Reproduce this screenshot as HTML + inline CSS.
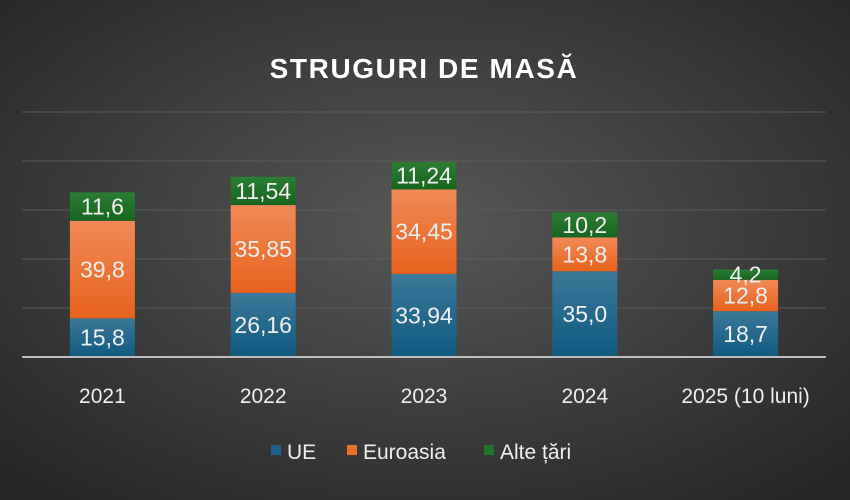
<!DOCTYPE html>
<html><head><meta charset="utf-8"><style>
html,body{margin:0;width:850px;height:500px;overflow:hidden;background:#333;}
svg{display:block;}
svg text{font-family:"Liberation Sans",sans-serif;}
</style></head><body>
<svg width="850" height="500">
<defs>
<radialGradient id="bg" cx="50%" cy="45%" r="70%">
<stop offset="0" stop-color="#575757"/><stop offset="1" stop-color="#262626"/></radialGradient>
<linearGradient id="gU" x1="0" y1="0" x2="0" y2="1"><stop offset="0" stop-color="#3c7899"/><stop offset="1" stop-color="#0f5a80"/></linearGradient>
<linearGradient id="gE" x1="0" y1="0" x2="0" y2="1"><stop offset="0" stop-color="#f08a58"/><stop offset="1" stop-color="#e8621c"/></linearGradient>
<linearGradient id="gA" x1="0" y1="0" x2="0" y2="1"><stop offset="0" stop-color="#2a7e32"/><stop offset="1" stop-color="#17651f"/></linearGradient>
</defs>
<rect width="850" height="500" fill="url(#bg)"/>
<text x="424" y="78" text-anchor="middle" fill="#fff" font-size="28" font-weight="bold" letter-spacing="1.6">STRUGURI DE MASĂ</text>
<g id="grid"></g><g id="bars"></g><g id="cats"></g>
<line x1="22" x2="826" y1="357" y2="357" stroke="#bdbdbd" stroke-width="2"/>
<g>
<rect x="271" y="445" width="10" height="10" fill="#1a6288"/>
<text x="287" y="459" fill="#eee" font-size="21">UE</text>
<rect x="347" y="445" width="10" height="10" fill="#ec6d2c"/>
<text x="363" y="459" fill="#eee" font-size="21">Euroasia</text>
<rect x="484" y="445" width="10" height="10" fill="#1f7428"/>
<text x="500" y="459" fill="#eee" font-size="21">Alte țări</text>
</g>
</svg>
<script>
const categories=["2021","2022","2023","2024","2025 (10 luni)"];
const ue=[15.8,26.16,33.94,35.0,18.7];
const euroasia=[39.8,35.85,34.45,13.8,12.8];
const alte=[11.6,11.54,11.24,10.2,4.2];
const ueLabels=["15,8","26,16","33,94","35,0","18,7"];
const euLabels=["39,8","35,85","34,45","13,8","12,8"];
const alteLabels=["11,6","11,54","11,24","10,2","4,2"];
const gridTicks=[20,40,60,80,100];
const NS="http://www.w3.org/2000/svg";
const left=22,right=826,base=357,scale=2.45,bw=65;
const band=(right-left)/categories.length;
const xc=i=>left+band*(i+0.5);
const y=v=>base-v*scale;
function mk(t,a,p){const e=document.createElementNS(NS,t);for(const k in a)e.setAttribute(k,a[k]);p.appendChild(e);return e;}
const g=document.getElementById('grid');
gridTicks.forEach(v=>{const l=mk('line',{x1:left,x2:right,y1:y(v),y2:y(v),stroke:'#5a5a5a','stroke-width':1},g);

});
const b=document.getElementById('bars'),c=document.getElementById('cats');
const series=[[ue,ueLabels,'url(#gU)','ue'],[euroasia,euLabels,'url(#gE)','euroasia'],[alte,alteLabels,'url(#gA)','alte-tari']];
categories.forEach((cat,i)=>{
 let acc=0;
 series.forEach(([vals,labs,fill,nm])=>{
  const v=vals[i];const y0=y(acc),y1=y(acc+v);
  const r=mk('rect',{x:xc(i)-bw/2,y:y1,width:bw,height:y0-y1,fill:fill},b);
  
  
  const t=mk('text',{x:xc(i),y:(y0+y1)/2+8,'text-anchor':'middle',fill:'#eee','font-size':23},b);
  t.textContent=labs[i];
  
  
  acc+=v;
 });
 const ct=mk('text',{x:xc(i),y:403,'text-anchor':'middle',fill:'#eee','font-size':21},c);
 ct.textContent=cat;
 
 
});
</script>
</body></html>
